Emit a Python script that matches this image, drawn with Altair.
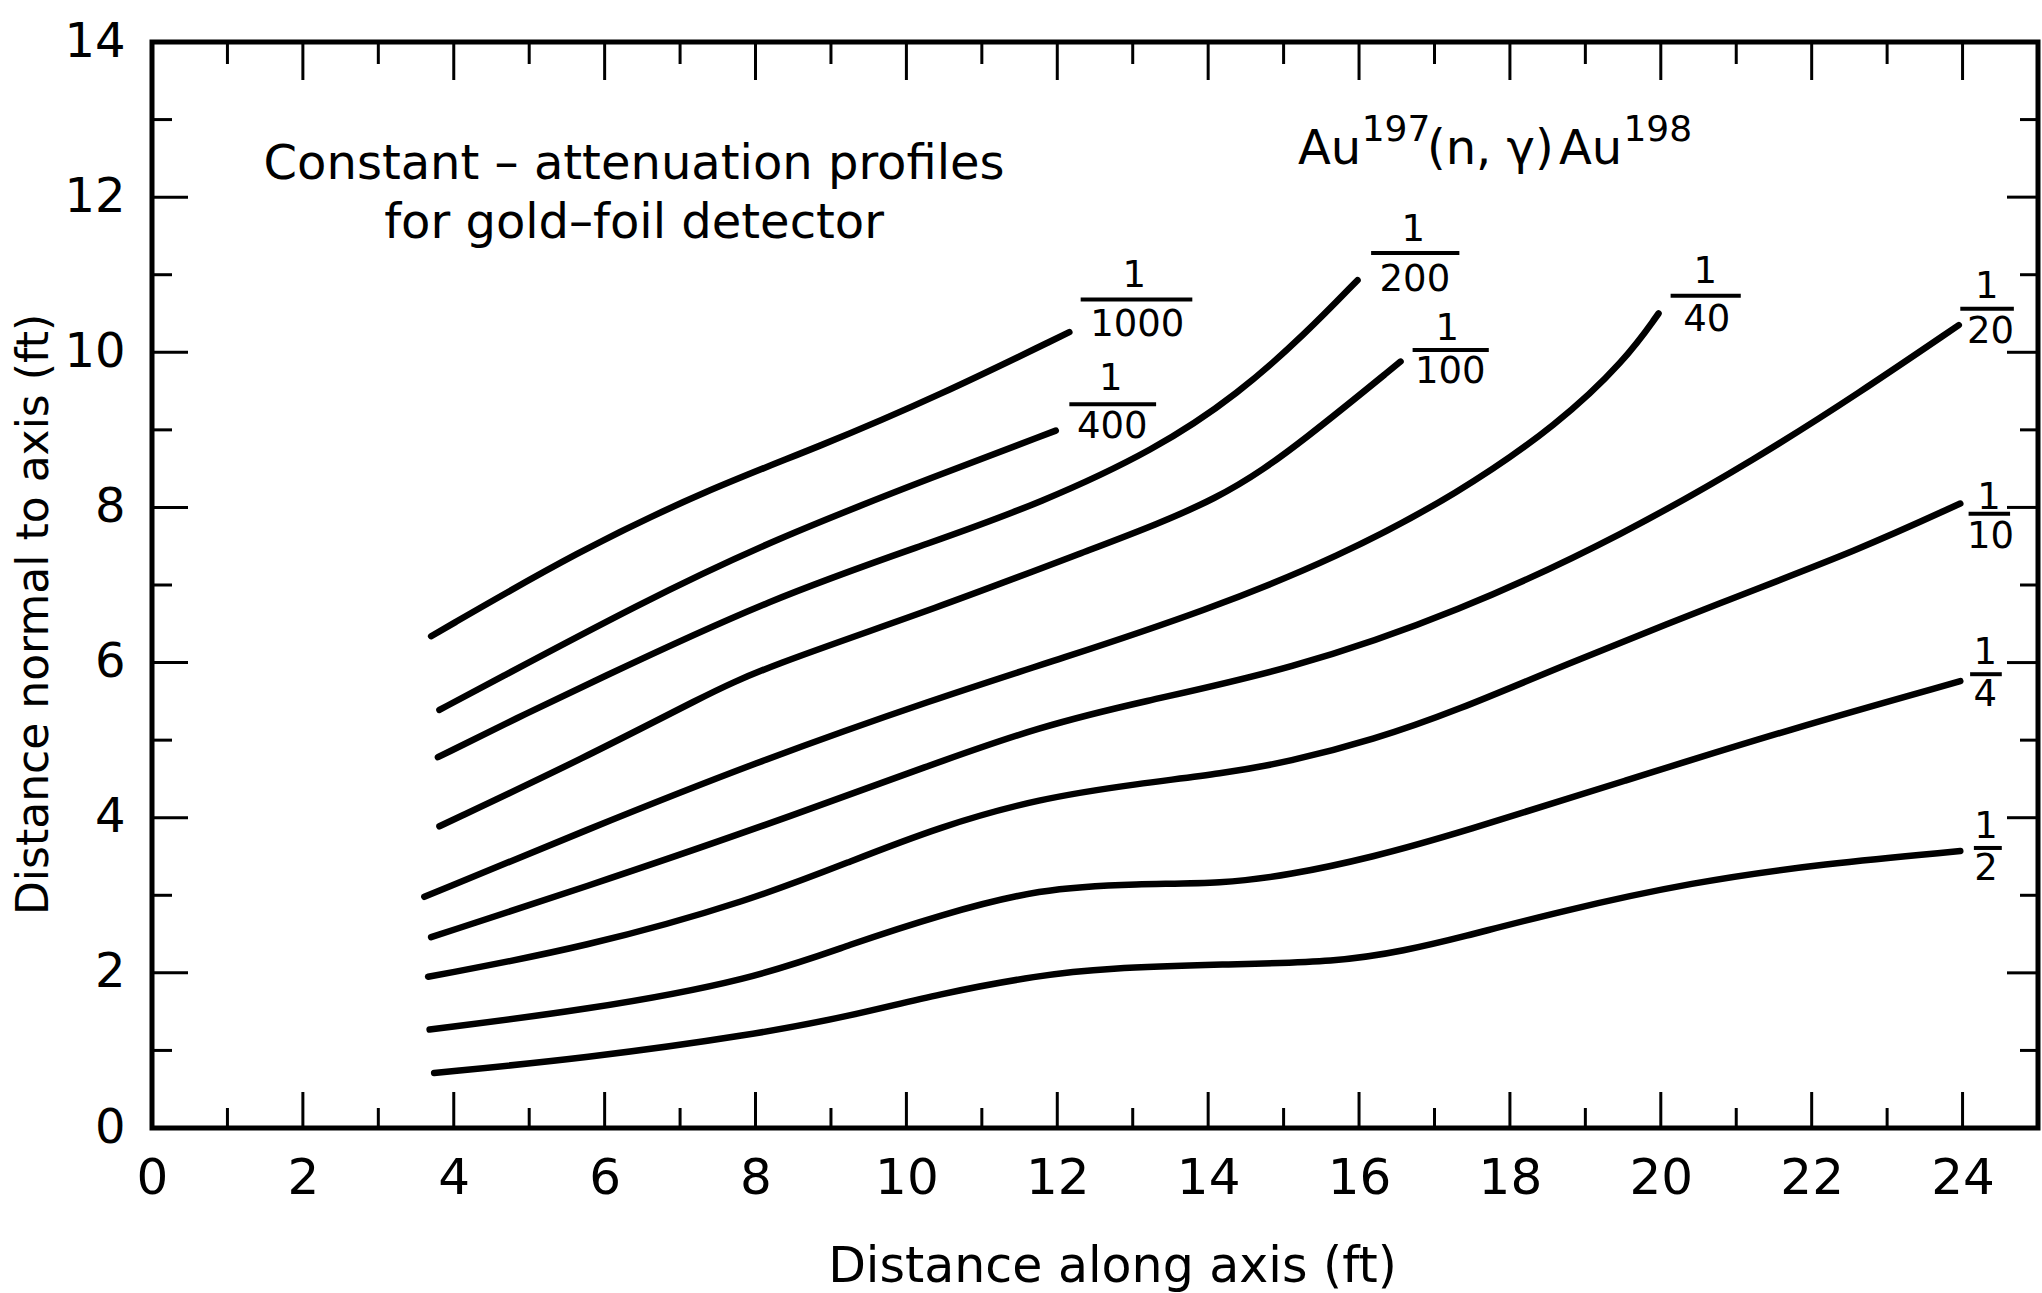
import altair as alt
import pandas as pd

W, H = 1886, 1086
FONT = "DejaVu Sans"

# ---------------- curve data ----------------
curve_names = ["1/1000", "1/400", "1/200", "1/100", "1/40", "1/20", "1/10", "1/4", "1/2"]

c1000_x = [3.70, 5.67, 7.39, 8.84, 10.43, 12.16]
c1000_y = [6.34, 7.45, 8.24, 8.78, 9.44, 10.26]

c400_x = [3.81, 4.43, 6.46, 8.22, 10.43, 11.98]
c400_y = [5.39, 5.71, 6.76, 7.58, 8.42, 8.99]

c200_x = [3.79, 4.87, 5.75, 8.22, 10.43, 11.76, 13.30, 14.41, 15.29, 15.98]
c200_y = [4.78, 5.30, 5.71, 6.84, 7.58, 8.05, 8.74, 9.47, 10.24, 10.93]

c100_x = [3.81, 5.75, 7.30, 8.09, 10.43, 12.42, 14.19, 15.29, 16.55]
c100_y = [3.89, 4.78, 5.56, 5.93, 6.71, 7.45, 8.10, 8.88, 9.88]

c40_x = [3.61, 5.75, 7.96, 10.43, 12.05, 13.97, 15.73, 17.32, 18.65, 19.53, 19.97]
c40_y = [2.98, 3.84, 4.70, 5.55, 6.05, 6.67, 7.36, 8.18, 9.08, 9.90, 10.50]

c20_x = [3.70, 5.75, 7.96, 10.43, 11.76, 13.08, 15.07, 17.32, 19.53, 21.30, 22.62, 23.95]
c20_y = [2.46, 3.11, 3.84, 4.72, 5.17, 5.49, 5.90, 6.65, 7.66, 8.65, 9.47, 10.35]

c10_x = [3.66, 5.75, 7.96, 9.29, 10.43, 11.76, 13.08, 14.19, 15.07, 16.18, 17.32, 18.60, 20.86, 22.62, 23.97]
c10_y = [1.95, 2.33, 2.94, 3.45, 3.88, 4.25, 4.44, 4.57, 4.72, 5.00, 5.39, 5.92, 6.80, 7.45, 8.05]

c4_x = [3.68, 5.75, 7.96, 9.29, 10.43, 11.76, 13.08, 14.19, 15.07, 16.18, 17.32, 19.53, 21.74, 23.97]
c4_y = [1.27, 1.52, 1.91, 2.38, 2.74, 3.09, 3.15, 3.15, 3.26, 3.49, 3.80, 4.48, 5.15, 5.76]

c2_x = [3.74, 5.75, 7.96, 9.29, 10.43, 11.76, 12.64, 14.19, 15.73, 16.62, 17.32, 18.65, 20.41, 22.18, 23.97]
c2_y = [0.71, 0.90, 1.20, 1.45, 1.73, 1.97, 2.06, 2.11, 2.14, 2.29, 2.45, 2.79, 3.17, 3.41, 3.57]

curve_xs = [c1000_x, c400_x, c200_x, c100_x, c40_x, c20_x, c10_x, c4_x, c2_x]
curve_ys = [c1000_y, c400_y, c200_y, c100_y, c40_y, c20_y, c10_y, c4_y, c2_y]

# ---------------- fraction labels ----------------
frac_den = ["1000", "400", "200", "100", "40", "20", "10", "4", "2"]
num_x = [13.02, 12.71, 16.72, 17.17, 20.59, 24.32, 24.35, 24.30, 24.31]
num_y = [10.98, 9.65, 11.57, 10.30, 11.03, 10.84, 8.12, 6.12, 3.88]
bar_x1 = [12.31, 12.16, 16.16, 16.71, 20.13, 23.97, 24.08, 24.10, 24.15]
bar_x2 = [13.79, 13.31, 17.33, 17.72, 21.06, 24.68, 24.63, 24.52, 24.52]
bar_y = [10.68, 9.33, 11.28, 10.03, 10.73, 10.56, 7.92, 5.85, 3.61]
den_x = [13.06, 12.73, 16.74, 17.21, 20.61, 24.37, 24.37, 24.30, 24.31]
den_y = [10.35, 9.04, 10.93, 9.74, 10.41, 10.26, 7.62, 5.58, 3.34]

# ---------------- annotation texts ----------------
note_lines = ["Constant – attenuation profiles", "for gold–foil detector"]
note_x = [6.39, 6.39]
note_y = [12.24, 11.47]

au_main_text = ["Au", "(n, γ)", "Au"]
au_main_x = [15.61, 17.74, 19.07]
au_main_y = [12.43, 12.43, 12.43]
au_sup_text = ["197", "198"]
au_sup_x = [16.49, 19.96]
au_sup_y = [12.73, 12.73]

# ---------------- axes ----------------
x_label_vals = list(range(0, 25, 2))
y_label_vals = list(range(0, 15, 2))
x_major_ticks = list(range(2, 25, 2))
x_minor_ticks = list(range(1, 24, 2))
y_major_ticks = list(range(2, 13, 2))
y_minor_ticks = list(range(1, 14, 2))

xs = alt.Scale(domain=[0, 25], nice=False, zero=False)
ys = alt.Scale(domain=[0, 14], nice=False, zero=False)

rows = []
for name, xv, yv in zip(curve_names, curve_xs, curve_ys):
    for i, (a, b) in enumerate(zip(xv, yv)):
        rows.append({"curve": name, "i": i, "x": a, "y": b})
df_curves = pd.DataFrame(rows)

x_axis = alt.Axis(
    values=x_label_vals, title="Distance along axis (ft)", ticks=False, tickSize=0,
    domain=False, grid=False, labelFont=FONT, labelFontSize=50, labelColor="black",
    labelPadding=25, labelFlush=False, labelOverlap=False,
    titleFont=FONT, titleFontSize=49, titleFontWeight="normal", titleColor="black",
    titleX=960, titleY=153, titleBaseline="alphabetic", titleAlign="center",
)
y_axis = alt.Axis(
    values=y_label_vals, title="Distance normal to axis (ft)", ticks=False, tickSize=0,
    domain=False, grid=False, labelFont=FONT, labelFontSize=48, labelColor="black",
    labelPadding=27, labelFlush=False, labelOverlap=False,
    titleFont=FONT, titleFontSize=44, titleFontWeight="normal", titleColor="black",
    titleX=-105, titleY=572, titleAngle=270, titleBaseline="alphabetic", titleAlign="center",
)


def X(field):
    return alt.X(field, scale=xs, axis=x_axis)


def Y(field):
    return alt.Y(field, scale=ys, axis=y_axis)


curves = alt.Chart(df_curves).mark_line(
    color="black", strokeWidth=6.5, strokeCap="round", strokeJoin="round",
    interpolate="basis",
).encode(
    x=X("x:Q"),
    y=Y("y:Q"),
    detail="curve:N",
    order="i:Q",
)


def xticks(vals, y0, y1):
    return alt.Chart(pd.DataFrame({"x": vals})).mark_rule(
        color="black", strokeWidth=3
    ).encode(
        x=X("x:Q"),
        y=alt.value(y0), y2=alt.value(y1),
    )


def yticks(vals, x0, x1):
    return alt.Chart(pd.DataFrame({"y": vals})).mark_rule(
        color="black", strokeWidth=3
    ).encode(
        y=Y("y:Q"),
        x=alt.value(x0), x2=alt.value(x1),
    )


tick_layers = [
    xticks(x_major_ticks, H, H - 36), xticks(x_minor_ticks, H, H - 20),
    xticks(x_major_ticks, 0, 38), xticks(x_minor_ticks, 0, 22),
    yticks(y_major_ticks, 0, 36), yticks(y_minor_ticks, 0, 20),
    yticks(y_major_ticks, W, W - 31), yticks(y_minor_ticks, W, W - 18),
]

df_num = pd.DataFrame({"x": num_x, "y": num_y, "t": ["1"] * len(num_x)})
df_den = pd.DataFrame({"x": den_x, "y": den_y, "t": frac_den})
df_bar = pd.DataFrame({"x": bar_x1, "x2": bar_x2, "y": bar_y})


def text_layer(df, size, baseline="middle", align="center"):
    return alt.Chart(df).mark_text(
        font=FONT, fontSize=size, color="black", baseline=baseline, align=align
    ).encode(
        x=X("x:Q"),
        y=Y("y:Q"),
        text="t:N",
    )


nums = text_layer(df_num, 37)
dens = text_layer(df_den, 37)
bars = alt.Chart(df_bar).mark_rule(color="black", strokeWidth=4).encode(
    x=X("x:Q"),
    x2="x2:Q",
    y=Y("y:Q"),
)

notes = text_layer(pd.DataFrame({"x": note_x, "y": note_y, "t": note_lines}), 48,
                   baseline="alphabetic")
au_main = text_layer(pd.DataFrame({"x": au_main_x, "y": au_main_y, "t": au_main_text}), 48,
                     baseline="alphabetic")
au_sup = text_layer(pd.DataFrame({"x": au_sup_x, "y": au_sup_y, "t": au_sup_text}), 36,
                    baseline="alphabetic")

chart = alt.layer(
    curves, *tick_layers, bars, nums, dens, notes, au_main, au_sup
).properties(
    width=W, height=H,
    autosize=alt.AutoSizeParams(type="none"),
    padding={"left": 152, "top": 42, "right": 4, "bottom": 165},
    background="white",
).configure_view(
    stroke="black", strokeWidth=5
)

chart.save("out.html", embed_options={"renderer": "svg", "actions": False})
